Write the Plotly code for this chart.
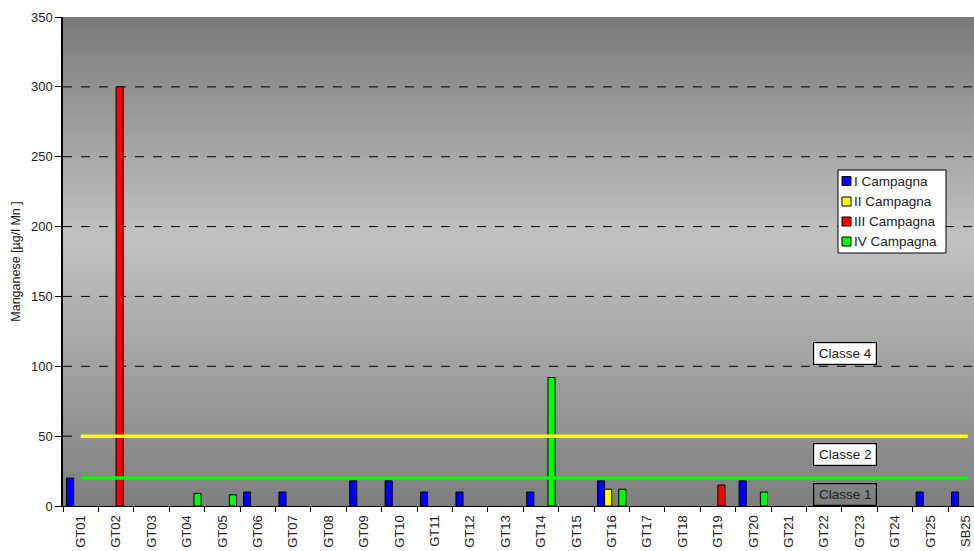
import plotly.graph_objects as go
import zlib, struct, base64

categories = ["GT01","GT02","GT03","GT04","GT05","GT06","GT07","GT08","GT09","GT10",
              "GT11","GT12","GT13","GT14","GT15","GT16","GT17","GT18","GT19","GT20",
              "GT21","GT22","GT23","GT24","GT25","SB25"]
camp1 = [20,None,None,None,None,10,10,None,18,18,10,10,None,10,None,18,None,None,None,18,None,None,None,None,10,10]
camp2 = [None]*15 + [12] + [None]*10
camp3 = [None,300] + [None]*16 + [15] + [None]*7
camp4 = [None,None,None,9,8,None,None,None,None,None,None,None,None,92,None,12,None,None,None,10,None,None,None,None,None,None]

series_names = ["I Campagna","II Campagna","III Campagna","IV Campagna"]
series_colors = ["#0000ff","#ffff00","#ff0000","#00ff00"]
series_values = [camp1, camp2, camp3, camp4]

y_ticks = [0,50,100,150,200,250,300,350]
grid_vals = [100,150,200,250,300]
limit_vals = [50, 20]
limit_colors = ["#ffff00", "#00ff00"]
class_labels = ["Classe 4", "Classe 2", "Classe 1"]
class_y = [109, 37, 8]

# ---- gradient background as an inline PNG ----
def shade(t):
    peak = 0.45
    if t < peak:
        c = 122 + (194 - 122) * (t / peak)
    else:
        c = 194 - (194 - 126) * ((t - peak) / (1 - peak))
    return int(round(c))

H, W = 489, 4
rows = [shade((i + 0.5) / H) for i in range(H)]
raw = b"".join(b"\x00" + bytes([v]) * W for v in rows)
def chunk(t, d):
    return struct.pack(">I", len(d)) + t + d + struct.pack(">I", zlib.crc32(t + d) & 0xffffffff)
png = (b"\x89PNG\r\n\x1a\n" + chunk(b"IHDR", struct.pack(">IIBBBBB", W, H, 8, 0, 0, 0, 0))
       + chunk(b"IDAT", zlib.compress(raw)) + chunk(b"IEND", b""))
bg_src = "data:image/png;base64," + base64.b64encode(png).decode()

fig = go.Figure()
for name, col, vals in zip(series_names, series_colors, series_values):
    fig.add_trace(go.Bar(x=categories, y=vals, name=name, showlegend=False,
                         marker=dict(color=col, line=dict(color="black", width=1))))

# pixel helpers for plot area (63..974 x 17..506); chart is cropped at the right edge
PX0, PX1, PY0, PY1 = 63, 974, 17, 506
CAT_W = 35.4
x_max = -0.5 + (PX1 - PX0) / CAT_W
def px(x): return (x - PX0) / (PX1 - PX0)
def py(y): return (PY1 - y) / (PY1 - PY0)

shapes = []
for g in grid_vals:
    shapes.append(dict(type="line", xref="paper", yref="y", x0=0, x1=1, y0=g, y1=g,
                       line=dict(color="black", width=1, dash="dash"), layer="below"))
shapes.append(dict(type="line", xref="paper", yref="y", x0=0, x1=0.019, y0=50, y1=50,
                   line=dict(color="black", width=1, dash="dash"), layer="below"))
for v, c in zip(limit_vals, limit_colors):
    shapes.append(dict(type="line", xref="x", yref="y", x0=0, x1=25.06, y0=v, y1=v,
                       line=dict(color=c, width=3.5), layer="above"))

annotations = []
for txt, yv in zip(class_labels, class_y):
    bg = "rgba(0,0,0,0)" if txt == "Classe 1" else "white"
    annotations.append(dict(text=txt, x=21.58, y=yv, xref="x", yref="y", showarrow=False,
                            bgcolor=bg, bordercolor="black", borderwidth=1.2, borderpad=1,
                            font=dict(size=13.5, color="#222"), width=60, height=19))

# manual legend
shapes.append(dict(type="rect", xref="paper", yref="paper", x0=px(838), x1=px(946),
                   y0=py(253), y1=py(170), fillcolor="white",
                   line=dict(color="black", width=1), layer="above"))
item_y = [181, 201.5, 221.5, 241.5]
for name, col, yc in zip(series_names, series_colors, item_y):
    shapes.append(dict(type="rect", xref="paper", yref="paper", x0=px(842), x1=px(851),
                       y0=py(yc + 4.5), y1=py(yc - 4.5), fillcolor=col,
                       line=dict(color="black", width=1), layer="above"))
    annotations.append(dict(text=name, x=px(852), y=py(yc), xref="paper", yref="paper",
                            xanchor="left", yanchor="middle", showarrow=False,
                            font=dict(size=13.5, color="#222")))

fig.update_layout(
    width=974, height=551,
    margin=dict(l=63, r=0, t=17, b=45),
    paper_bgcolor="white", plot_bgcolor="rgba(0,0,0,0)",
    barmode="group", bargap=0.2, bargroupgap=0,
    font=dict(family="Arial, Liberation Sans, sans-serif", size=13, color="#222"),
    shapes=shapes, annotations=annotations,
    images=[dict(source=bg_src, xref="paper", yref="paper", x=0, y=1, sizex=1, sizey=1,
                 xanchor="left", yanchor="top", sizing="stretch", layer="below")],
    showlegend=False,
)
fig.update_xaxes(type="category", tickangle=-90, ticks="outside", tickson="boundaries",
                 ticklen=5, tickcolor="black", showline=True, linecolor="black", linewidth=1,
                 showgrid=False, tickfont=dict(size=13), range=[-0.5, x_max],
                 ticklabelstandoff=3)
fig.update_yaxes(range=[0, 350], tickvals=y_ticks, ticks="outside", ticklen=6,
                 tickcolor="black", showline=True, linecolor="black", linewidth=1.5,
                 showgrid=False, zeroline=False, tickfont=dict(size=13),
                 title=dict(text="Manganese [µg/l Mn ]", font=dict(size=12.5), standoff=8))

fig.write_html("out.html", config={"displayModeBar": False},
               post_script="document.body.style.margin='0';document.body.style.overflow='hidden';")
